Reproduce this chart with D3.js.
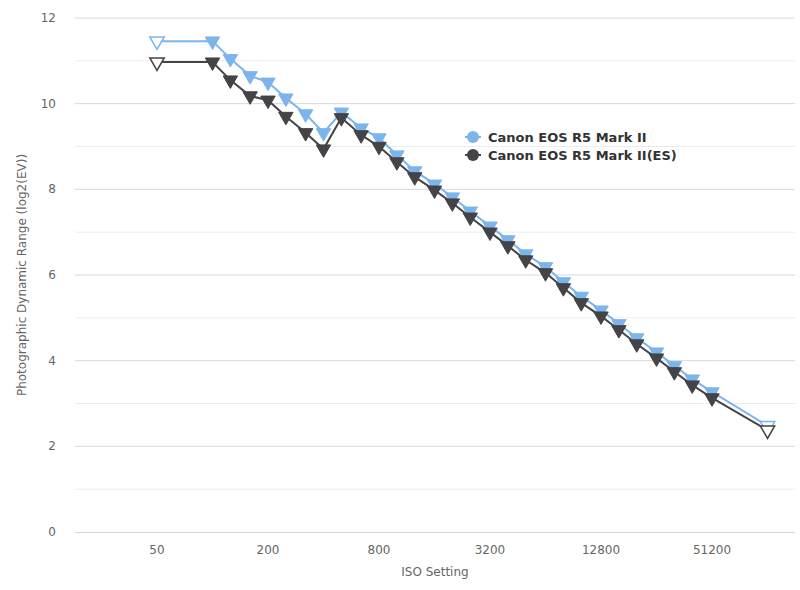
<!DOCTYPE html>
<html><head><meta charset="utf-8">
<script src="https://cdn.jsdelivr.net/npm/d3@7"></script>
<style>body{margin:0;background:#fff;font-family:"Lucida Grande","DejaVu Sans",Arial,sans-serif}</style>
</head><body><svg id="c" width="800" height="590"></svg>
<script>
const isoValues=[50,100,125,160,200,250,320,400,500,640,800,1000,1250,1600,2000,2500,3200,4000,5000,6400,8000,10000,12800,16000,20000,25600,32000,40000,51200,102400];
const seriesMk2=[11.46,11.46,11.05,10.65,10.5,10.13,9.76,9.32,9.8,9.43,9.2,8.8,8.43,8.12,7.82,7.49,7.14,6.82,6.49,6.19,5.84,5.5,5.18,4.86,4.53,4.2,3.88,3.57,3.27,2.48];
const seriesES=[10.97,10.97,10.55,10.18,10.08,9.7,9.32,8.94,9.67,9.27,9.0,8.64,8.29,7.98,7.68,7.35,7.0,6.68,6.35,6.05,5.7,5.35,5.04,4.72,4.39,4.06,3.74,3.43,3.13,2.38];
const seriesNames=["Canon EOS R5 Mark II","Canon EOS R5 Mark II(ES)"];
const xTicks=[50,200,800,3200,12800,51200];
const yTicks=[0,2,4,6,8,10,12];
const colors=["#7cb5ec","#434348"];
const openIdx=[0,isoValues.length-1];

const svg=d3.select("#c");
const L=75,R=795,T=18,B=532;
const x=d3.scaleLog().base(2).domain([50*Math.pow(2,-82/55.5),50*Math.pow(2,638/55.5)]).range([L,R]);
const y=d3.scaleLinear().domain([0,12]).range([B,T]);

// grid
const g=svg.append("g");
d3.range(1,13).forEach(v=>{
  g.append("line").attr("x1",L).attr("x2",R).attr("y1",y(v)).attr("y2",y(v))
   .attr("stroke",v%2? "#ececec":"#d8d8d8").attr("stroke-width",1);
});
svg.append("line").attr("x1",L).attr("x2",R).attr("y1",B+0.5).attr("y2",B+0.5).attr("stroke","#ccd6eb");

yTicks.forEach(v=>svg.append("text").attr("x",56).attr("y",y(v)+4).attr("text-anchor","end")
  .attr("font-size",12).attr("fill","#666").text(v));
xTicks.forEach(v=>{
  svg.append("text").attr("x",x(v)).attr("y",554).attr("text-anchor","middle").attr("font-size",12).attr("fill","#666").text(v);
});
svg.append("text").attr("x",435).attr("y",576).attr("text-anchor","middle").attr("font-size",12).attr("fill","#666").text("ISO Setting");
svg.append("text").attr("transform","translate(26,275) rotate(-90)").attr("text-anchor","middle").attr("font-size",12).attr("fill","#666").text("Photographic Dynamic Range (log2(EV))");

const tri=d3.symbol().type(d3.symbolTriangle).size(90);
[seriesMk2,seriesES].forEach((s,si)=>{
  const line=d3.line().x((d,i)=>x(isoValues[i])).y(d=>y(d));
  svg.append("path").attr("d",line(s)).attr("fill","none").attr("stroke",colors[si]).attr("stroke-width",2);
  s.forEach((d,i)=>{
    const open=openIdx.includes(i);
    svg.append("path").attr("d",tri).attr("transform",`translate(${x(isoValues[i])},${y(d)}) rotate(180)`)
      .attr("fill",open?"#fff":colors[si]).attr("stroke",colors[si]).attr("stroke-width",open?1.5:1);
  });
});

// legend
seriesNames.forEach((n,i)=>{
  const ly=137+i*18;
  svg.append("line").attr("x1",465).attr("x2",481).attr("y1",ly).attr("y2",ly).attr("stroke",colors[i]).attr("stroke-width",2);
  svg.append("circle").attr("cx",473).attr("cy",ly).attr("r",6).attr("fill",colors[i]);
  svg.append("text").attr("x",488).attr("y",ly+5).attr("font-size",13).attr("font-weight","bold").attr("fill","#333").text(n);
});
</script></body></html>
